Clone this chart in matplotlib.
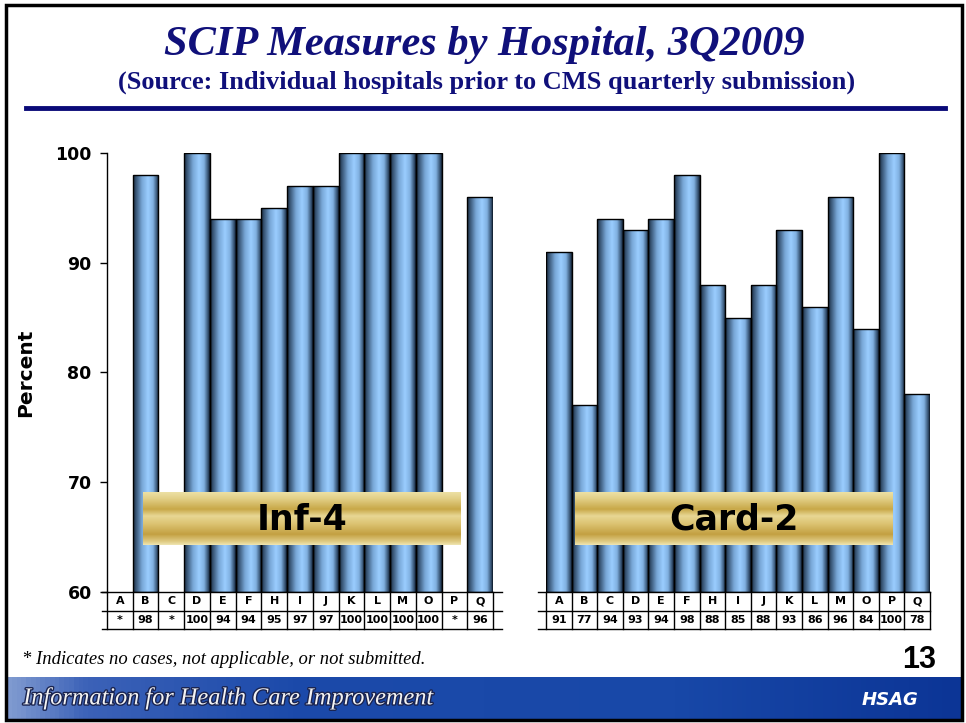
import numpy as np
import matplotlib
matplotlib.use("Agg")
import matplotlib.pyplot as plt
from matplotlib.colors import LinearSegmentedColormap
from matplotlib.patches import Rectangle
import matplotlib.patheffects as pe

# ---------------- data ----------------
hospitals = ["A", "B", "C", "D", "E", "F", "H", "I", "J", "K", "L", "M", "O", "P", "Q"]
inf4 = [None, 98, None, 100, 94, 94, 95, 97, 97, 100, 100, 100, 100, None, 96]
card2 = [91, 77, 94, 93, 94, 98, 88, 85, 88, 93, 86, 96, 84, 100, 78]
panel_names = ["Inf-4", "Card-2"]
yticks = [60, 70, 80, 90, 100]

title = "SCIP Measures by Hospital, 3Q2009"
subtitle = "(Source: Individual hospitals prior to CMS quarterly submission)"
footnote = "* Indicates no cases, not applicable, or not submitted."
page_no = "13"
footer_text = "Information for Health Care Improvement"

W, H = 966, 723
fig = plt.figure(figsize=(W / 100, H / 100), dpi=100)
fig.patch.set_facecolor("white")

def fx(x):
    return x / W

def fy(y):
    return 1 - y / H

def px_axes(x0, y0, x1, y1, **kw):
    return fig.add_axes([fx(x0), fy(y1), fx(x1) - fx(x0), fy(y0) - fy(y1)], **kw)

bar_cmap = LinearSegmentedColormap.from_list(
    "cyl", [(0.0, "#1a2a3e"), (0.12, "#3a5878"), (0.35, "#79a8d8"),
            (0.58, "#9acdff"), (0.78, "#80b0e0"), (0.92, "#3c5a7c"), (1.0, "#16263a")])
gold_cmap = LinearSegmentedColormap.from_list(
    "gold", [(0.0, "#ece0a4"), (0.12, "#e2cf86"), (0.32, "#c8a848"), (0.45, "#e8d794"),
             (0.6, "#dcc372"), (0.8, "#c3a042"), (0.95, "#e2cf8a"), (1.0, "#eee4b0")])

row1 = -19 / 439
row2 = -37 / 439
tab_font = dict(fontsize=8, fontweight="bold", family="DejaVu Sans")

def draw_panel(ax, values, show_y, ext_left, ext_right):
    x = np.arange(len(hospitals))
    vals = [v if v is not None else 0 for v in values]
    bars = ax.bar(x, [v - 60 if v else 0 for v in vals], bottom=60, width=1.0,
                  color="none", edgecolor="black", linewidth=1.0, zorder=3)
    grad = np.linspace(0, 1, 64).reshape(1, -1)
    for b, v in zip(bars, values):
        if v is None:
            b.set_visible(False)
            continue
        x0 = b.get_x()
        im = ax.imshow(grad, cmap=bar_cmap, aspect="auto",
                       extent=(x0, x0 + b.get_width(), 60, v), zorder=2)
        im.set_clip_path(b)
    ax.set_xlim(-0.5, len(hospitals) - 0.5)
    ax.set_ylim(60, 100)
    ax.set_xticks([])
    for s in ["top", "right", "bottom"]:
        ax.spines[s].set_visible(False)
    if show_y:
        ax.set_yticks(yticks)
        ax.set_yticklabels([str(t) for t in yticks], fontsize=12.5, fontweight="bold",
                           family="DejaVu Sans")
        ax.tick_params(axis="y", length=5, width=1, pad=6)
        ax.spines["left"].set_linewidth(1.0)
    else:
        ax.set_yticks([])
        ax.spines["left"].set_visible(False)
    tr = ax.get_xaxis_transform()
    n = len(hospitals)
    for yy in [0, row1, row2]:
        ax.plot([-0.5 - ext_left, n - 0.5 + ext_right], [yy, yy], color="black",
                lw=1.0, transform=tr, clip_on=False, zorder=4)
    for i in range(n + 1):
        ax.plot([i - 0.5, i - 0.5], [0, row2], color="black", lw=1.0,
                transform=tr, clip_on=False, zorder=4)
    for i, (h, v) in enumerate(zip(hospitals, values)):
        ax.text(i, row1 / 2, h, ha="center", va="center", transform=tr, **tab_font)
        ax.text(i, (row1 + row2) / 2, "*" if v is None else str(v), ha="center",
                va="center", transform=tr, **tab_font)

ax1 = px_axes(107, 153, 493, 592)
draw_panel(ax1, inf4, True, 5 / 25.7, 9 / 25.7)
ax1.set_ylabel("Percent", fontsize=14.5, fontweight="bold", family="DejaVu Sans")
ax1.yaxis.set_label_coords((35 - 107) / 386, 0.5)
ax2 = px_axes(546, 153, 930, 592)
draw_panel(ax2, card2, False, 8 / 25.6, 0)

# gold name boxes
gv = np.linspace(0, 1, 100).reshape(-1, 1)
for name, (x0, x1) in zip(panel_names, [(143, 461), (575, 893)]):
    bx = px_axes(x0, 492, x1, 545)
    bx.imshow(gv, cmap=gold_cmap, aspect="auto", extent=(0, 1, 0, 1))
    bx.set_xlim(0, 1)
    bx.set_ylim(0, 1)
    bx.axis("off")
    bx.text(0.5, 0.48, name, ha="center", va="center", fontsize=25,
            fontweight="bold", family="DejaVu Sans", color="black")

# titles
fig.text(fx(484), fy(45), title, ha="center", va="center", fontsize=30.5,
         fontweight="bold", style="italic", family="Liberation Serif", color="#10107a")
fig.text(fx(487), fy(82), subtitle, ha="center", va="center", fontsize=19,
         fontweight="bold", family="Liberation Serif", color="#10107a")
fig.add_artist(plt.Line2D([fx(26), fx(945)], [fy(108), fy(108)], color="#0a0a78", lw=3.5))

# footnote and page number
fig.text(fx(22), fy(660), footnote, ha="left", va="center", fontsize=13.4,
         style="italic", family="Liberation Serif", color="black")
fig.text(fx(936), fy(660), page_no, ha="right", va="center", fontsize=22,
         fontweight="bold", family="Liberation Sans", color="black")

# footer banner
foot_cmap = LinearSegmentedColormap.from_list(
    "foot", [(0.0, "#7f9ad0"), (0.08, "#3c62b8"), (0.3, "#1c4aaa"), (0.7, "#1848a8"),
             (1.0, "#0c3596")])
fb = px_axes(7, 677, 961, 719)
fb.imshow(np.linspace(0, 1, 200).reshape(1, -1), cmap=foot_cmap, aspect="auto",
          extent=(0, 1, 0, 1))
fb.set_xlim(0, 1)
fb.set_ylim(0, 1)
fb.axis("off")
fb.text(0.017, 0.48, footer_text, ha="left", va="center", fontsize=17.5, style="italic",
        family="Liberation Serif", color="#f2f2f2",
        path_effects=[pe.withStroke(linewidth=2, foreground="#1a2450")])
fb.text(0.955, 0.45, "HSAG", ha="right", va="center", fontsize=13, style="italic",
        fontweight="bold", family="DejaVu Sans", color="white")

# slide border
fig.add_artist(Rectangle((fx(6), fy(720)), fx(962) - fx(6), fy(5) - fy(720),
                         fill=False, edgecolor="black", lw=2.5,
                         transform=fig.transFigure))

fig.savefig("out.png", dpi=100)
